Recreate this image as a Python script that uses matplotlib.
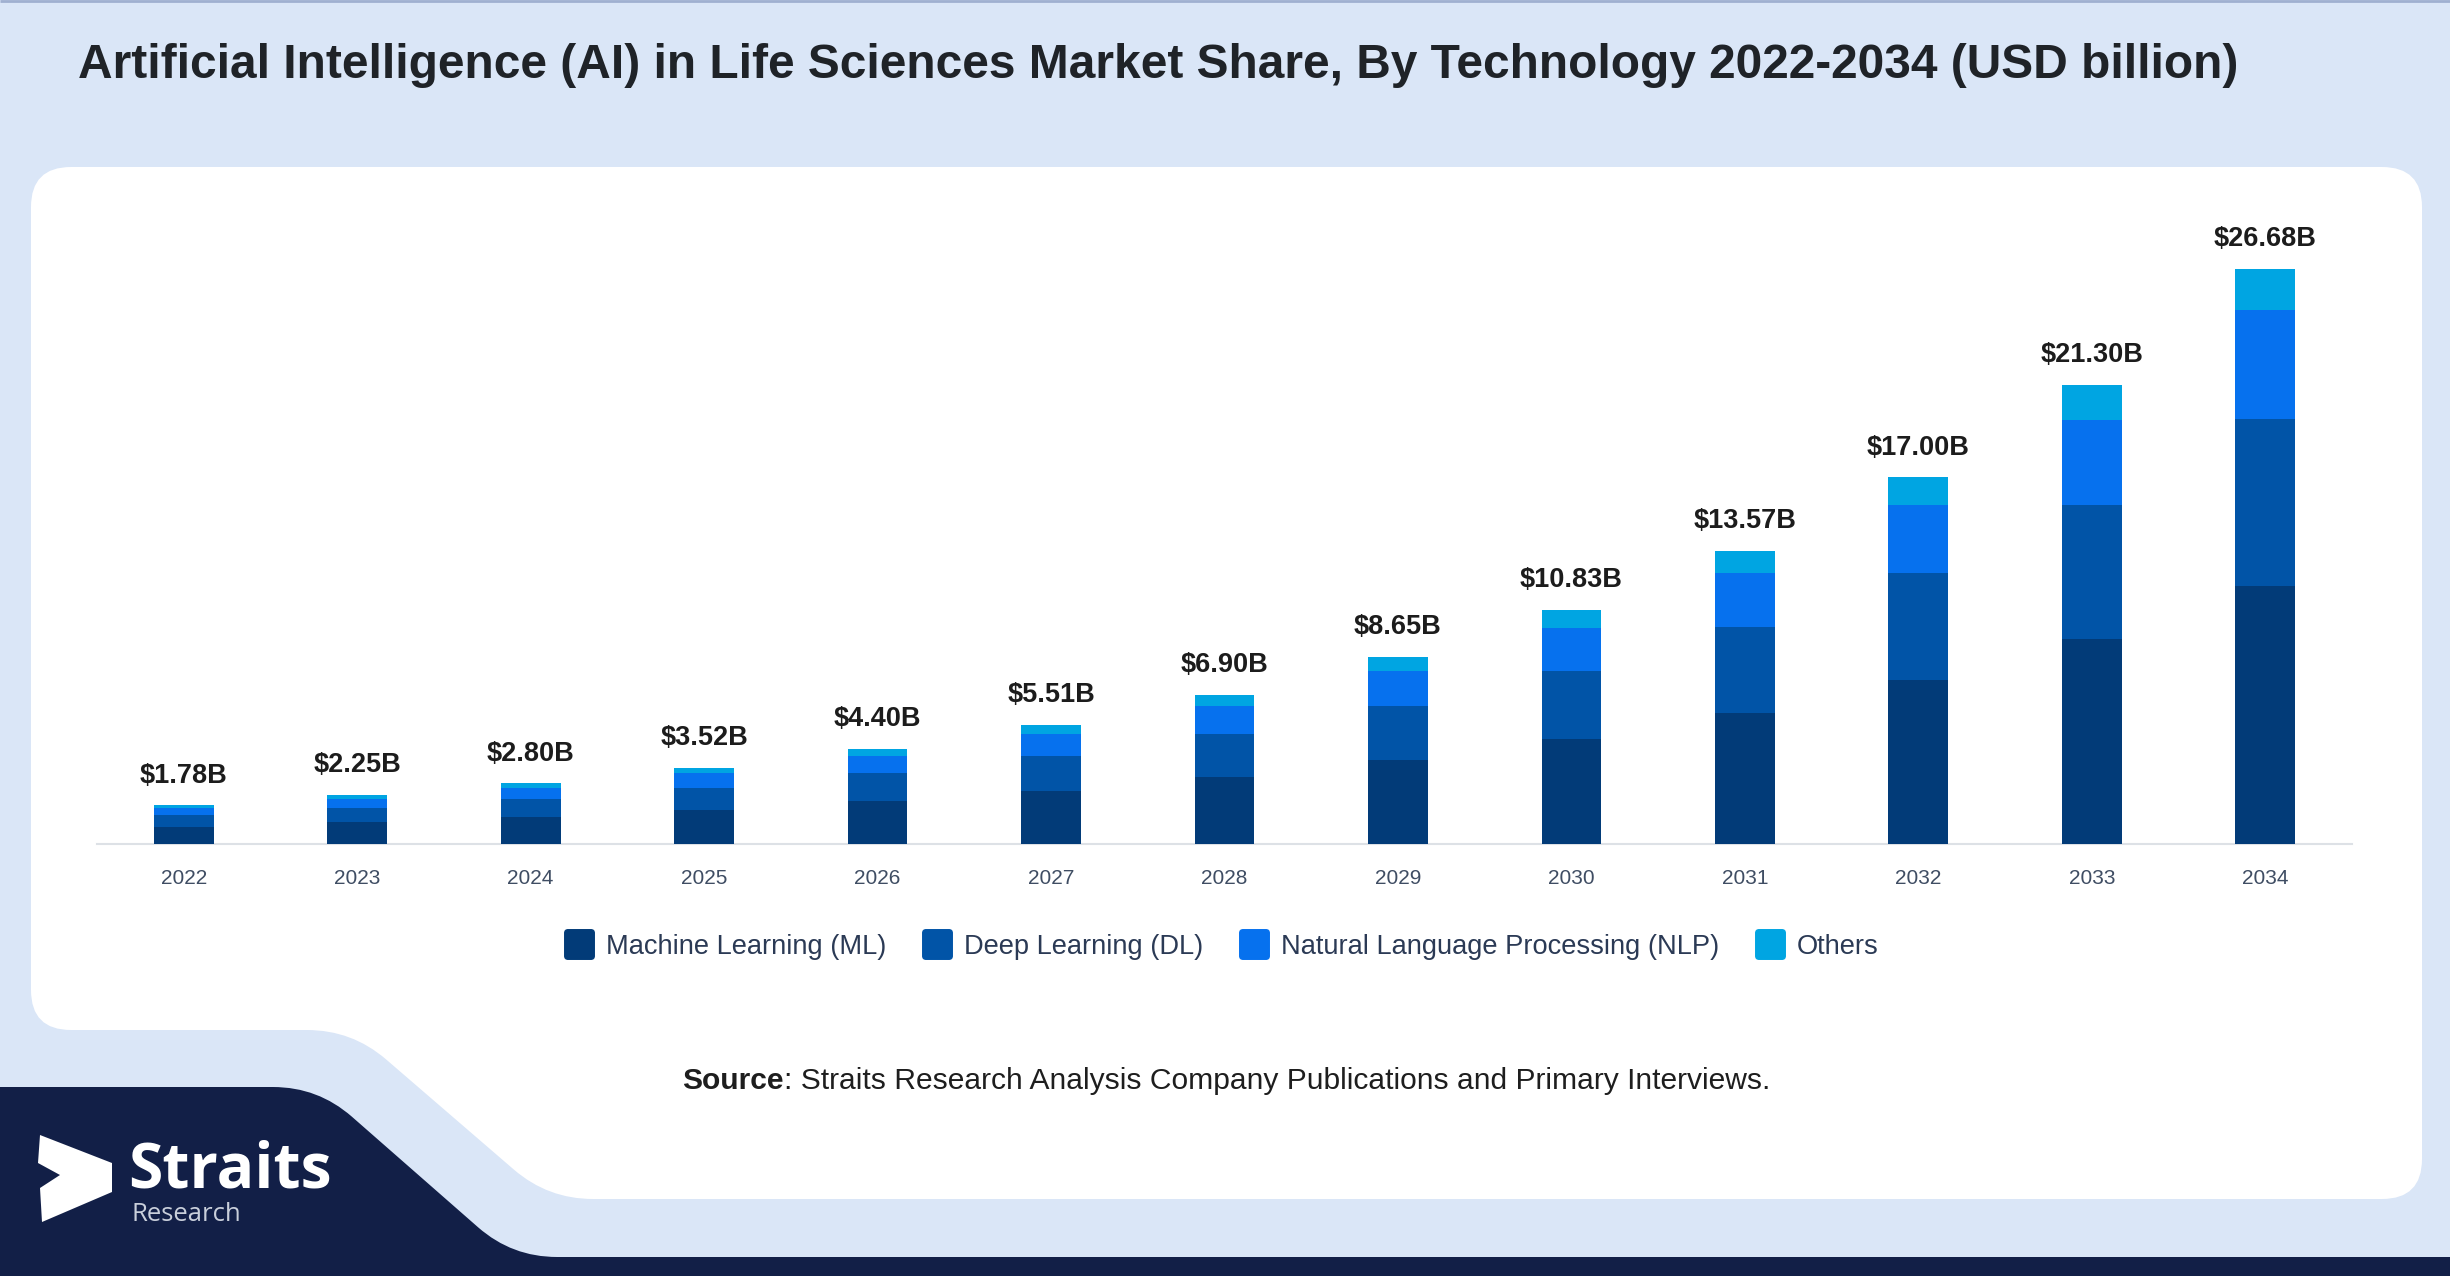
import matplotlib
matplotlib.use('Agg')
import matplotlib.pyplot as plt
from matplotlib.path import Path
from matplotlib.patches import PathPatch, Polygon
from matplotlib.lines import Line2D
from matplotlib.markers import MarkerStyle
import numpy as np

plt.rcParams['font.family'] = ['Liberation Sans', 'DejaVu Sans']

# ---------------- data ----------------
years = ['2022', '2023', '2024', '2025', '2026', '2027', '2028',
         '2029', '2030', '2031', '2032', '2033', '2034']
ml = [0.80, 1.01, 1.25, 1.58, 1.97, 2.47, 3.09, 3.87, 4.87, 6.09, 7.60, 9.52, 11.94]
dl = [0.52, 0.66, 0.82, 1.03, 1.29, 1.61, 2.01, 2.53, 3.13, 3.96, 4.97, 6.19, 7.79]
nlp = [0.33, 0.42, 0.52, 0.65, 0.82, 1.02, 1.29, 1.61, 2.03, 2.53, 3.15, 3.95, 5.02]
others = [0.13, 0.16, 0.21, 0.26, 0.32, 0.41, 0.51, 0.64, 0.80, 0.99, 1.28, 1.64, 1.93]
totals = [1.78, 2.25, 2.80, 3.52, 4.40, 5.51, 6.90, 8.65, 10.83, 13.57, 17.00, 21.30, 26.68]
series_names = ['Machine Learning (ML)', 'Deep Learning (DL)',
                'Natural Language Processing (NLP)', 'Others']
series_colors = ['#023b78', '#0154a7', '#0671ee', '#00a5e2']
title = 'Artificial Intelligence (AI) in Life Sciences Market Share, By Technology 2022-2034 (USD billion)'
source_bold = 'Source'
source_rest = ': Straits Research Analysis Company Publications and Primary Interviews.'

W, H = 2450, 1276
fig = plt.figure(figsize=(W / 100, H / 100), dpi=100, facecolor='#dae6f7')

# ---------------- background decoration (pixel coords) ----------------
bg = fig.add_axes([0, 0, 1, 1], zorder=0)
bg.set_xlim(0, W)
bg.set_ylim(H, 0)
bg.axis('off')


def rounded_path(pts, radii):
    n = len(pts)
    verts, codes = [], []
    for i in range(n):
        p0 = np.array(pts[i - 1], float)
        p1 = np.array(pts[i], float)
        p2 = np.array(pts[(i + 1) % n], float)
        r = radii[i]
        d1 = p0 - p1
        d1 /= np.linalg.norm(d1)
        d2 = p2 - p1
        d2 /= np.linalg.norm(d2)
        a = p1 + d1 * r
        b = p1 + d2 * r
        verts.append(a)
        codes.append(Path.MOVETO if i == 0 else Path.LINETO)
        verts += [p1, b]
        codes += [Path.CURVE3, Path.CURVE3]
    verts.append(verts[0])
    codes.append(Path.CLOSEPOLY)
    return Path(verts, codes)


# top thin border
bg.plot([0, W], [1, 1], color='#9fb0d0', lw=2, solid_capstyle='butt')

# white card
card = rounded_path([(31, 167), (2422, 167), (2422, 1199), (548, 1199), (352, 1030), (31, 1030)],
                    [40, 40, 40, 45, 45, 40])
bg.add_patch(PathPatch(card, facecolor='white', edgecolor='none'))

# navy footer shape
navy = rounded_path([(-5, 1087), (318, 1087), (512, 1257), (2460, 1257), (2460, 1285), (-5, 1285)],
                    [0, 45, 45, 0, 0, 0])
bg.add_patch(PathPatch(navy, facecolor='#121f47', edgecolor='none'))

# logo
bg.add_patch(Polygon([(40, 1135), (112, 1163), (112, 1192), (42, 1222), (40, 1188), (60, 1175), (38, 1163)],
                     closed=True, facecolor='white', edgecolor='none'))
bg.text(128, 1188, 'Straits', fontfamily='Open Sans', fontweight='bold', fontsize=45,
        color='white', ha='left', va='baseline')
bg.text(131, 1221, 'Research', fontfamily='Open Sans', fontsize=18.5,
        color='#c9cfdb', ha='left', va='baseline')

# title
bg.text(78, 66, title, fontsize=34.5, fontweight='bold', color='#1f2328', ha='left', va='center')

# source
bg.text(784, 1081, source_bold, fontsize=21.6, fontweight='bold', color='#1e1e1e', ha='right', va='center')
bg.text(784, 1081, source_rest, fontsize=21.6, color='#1e1e1e', ha='left', va='center')

# ---------------- chart ----------------
base_y = 843.75
top_y = 200
ax = fig.add_axes([97 / W, (H - base_y) / H, (2352 - 97) / W, (base_y - top_y) / H], zorder=2)
ax.patch.set_alpha(0)
x = np.arange(len(years))
bottom = np.zeros(len(years))
for vals, name, col in zip([ml, dl, nlp, others], series_names, series_colors):
    ax.bar(x, vals, width=0.345, bottom=bottom, color=col, label=name, linewidth=0, zorder=3)
    bottom = bottom + np.array(vals)

for i, t in enumerate(totals):
    ax.annotate(f'${t:.2f}B', (x[i], bottom[i]), xytext=(0, 21.5), textcoords='offset points',
                ha='center', va='center', fontsize=19.5, fontweight='bold', color='#1c1c1c')

ax.set_xlim(-0.5, len(years) - 0.5)
ax.set_ylim(0, 29.87)
ax.set_xticks(x)
ax.set_xticklabels(years)
ax.tick_params(axis='x', length=0, pad=18, labelsize=15, labelcolor='#3f4d63')
ax.set_yticks([])
for s in ['top', 'right', 'left']:
    ax.spines[s].set_visible(False)
ax.spines['bottom'].set_color('#dde1e6')
ax.spines['bottom'].set_linewidth(1.5)

handles = [Line2D([], [], ls='none', marker=MarkerStyle('s', joinstyle='round'), markersize=17,
                  markerfacecolor=c, markeredgecolor=c, markeredgewidth=5) for c in series_colors]
fig.legend(handles, series_names, loc='center', bbox_to_anchor=(0.4985, (H - 947) / H), ncol=4,
           frameon=False, fontsize=19.6, handlelength=1.1, handletextpad=0.45, columnspacing=1.3,
           labelcolor='#2b3a55')

fig.savefig('out.png', dpi=100, facecolor=fig.get_facecolor())
